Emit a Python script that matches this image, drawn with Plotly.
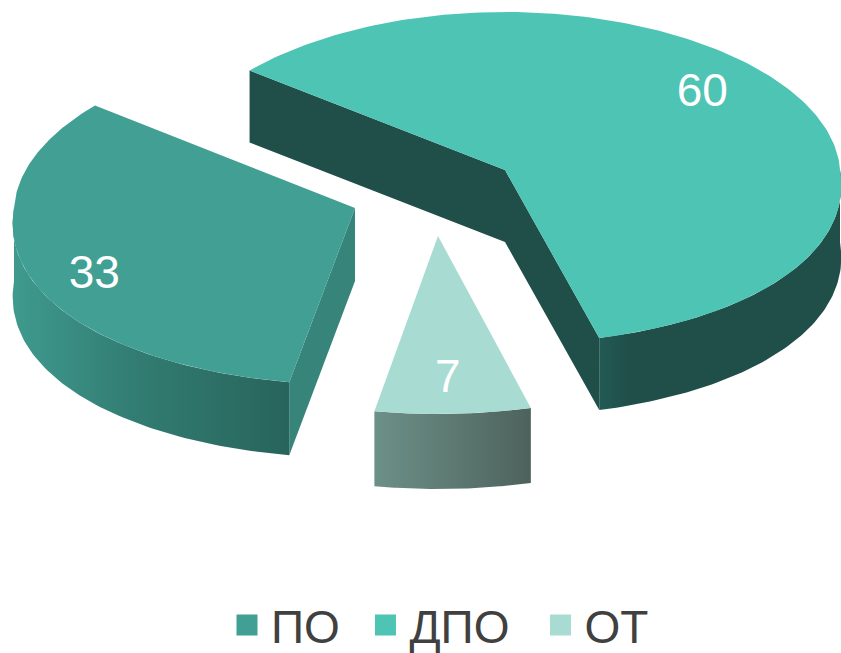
import numpy as np
import plotly.graph_objects as go

categories = ["ПО", "ДПО", "ОТ"]
values = [33, 60, 7]
legend_pads = ["\u00a0\u200a", "\u00a0\u2009", ""]
top_colors = ["#419F93", "#4EC4B4", "#A8DBD2"]
face_colors = ["#36847A", "#204F4A", "#A8DBD2"]
side_scales = [
    [[0, "#3F9A8E"], [0.45, "#327C72"], [1, "#28645B"]],
    [[0, "#235A54"], [0.12, "#204F4A"], [1, "#204F4A"]],
    [[0, "#6C9087"], [1, "#4E625D"]],
]
apexes = [(355, 208), (505, 170), (438, 236)]
radii = [341, 335, 330]
ry_back = [163.0, 158.0, 158.0]
ry_front = [177.0, 174.0, 178.0]
depths = [73.0, 72.0, 75.0]
label_frac = [0.83, 0.766, 0.815]
label_shift = [7.5, 5.4, -0.5]
START_DEG = 141.0
K_BACK, K_FRONT = 0.03, 0.09


def project(i, deg, frac=1.0):
    t = np.radians(deg)
    c, s = np.cos(t), np.sin(t)
    ry = np.where(s >= 0, ry_back[i], ry_front[i])
    k = np.where(s >= 0, K_BACK, K_FRONT)
    return apexes[i][0] + frac * radii[i] * c * (1 - k * s), apexes[i][1] - frac * ry * s


# slice angles derived from values: DPO starts at START_DEG, clockwise, then OT, then PO
total = sum(values)
sweep = [v / total * 360 for v in values]
a_dpo = (START_DEG, START_DEG - sweep[1])
a_ot = (a_dpo[1], a_dpo[1] - sweep[2])
a_po = (a_ot[1], a_ot[1] - sweep[0])
angles = [a_po, a_dpo, a_ot]
# portion of the rim visible at the front (clipped to lower half)
rims = [(-180.0, a_po[0]), (a_dpo[1], 0.0), (a_ot[1], a_ot[0])]

fig = go.Figure()


def add_poly(xs, ys, color=None, scale=None):
    kw = dict(fillcolor=color) if scale is None else dict(
        fillgradient=dict(type="horizontal", colorscale=scale))
    fig.add_trace(go.Scatter(x=list(xs), y=list(ys), mode="lines", fill="toself",
                             line=dict(width=0), hoverinfo="skip",
                             showlegend=False, **kw))


for i in range(3):
    apex, depth = apexes[i], depths[i]
    a0, a1 = angles[i]
    # flat cut faces
    if i == 0:
        ex, ey = project(i, a0)
        ex, ey = float(ex), float(ey)
        add_poly([apex[0], ex, ex, apex[0]],
                 [apex[1], ey, ey + depth, apex[1] + depth], face_colors[i])
    if i == 1:
        sx, sy = project(i, a0)
        ex, ey = project(i, a1)
        sx, sy, ex, ey = float(sx), float(sy), float(ex), float(ey)
        add_poly([sx, apex[0], ex, ex, apex[0], sx],
                 [sy, apex[1], ey, ey + depth, apex[1] + depth, sy + depth], face_colors[i])
    # curved rim
    r0, r1 = rims[i]
    deg = np.linspace(r0, r1, 80)
    rx_pts, ry_pts = project(i, deg)
    add_poly(np.r_[rx_pts, rx_pts[::-1]], np.r_[ry_pts, ry_pts[::-1] + depth],
             scale=side_scales[i])
    # top face
    deg = np.linspace(a0, a1, 200)
    tx, ty = project(i, deg)
    add_poly(np.r_[apex[0], tx], np.r_[apex[1], ty], top_colors[i])

# value labels
lx, ly = [], []
for i in range(3):
    mid = sum(angles[i]) / 2 + label_shift[i]
    x, y = project(i, mid, label_frac[i])
    lx.append(float(x))
    ly.append(float(y))
fig.add_trace(go.Scatter(x=lx, y=ly, mode="text", text=[str(v) for v in values],
                         textposition="middle center",
                         textfont=dict(family="Liberation Sans", size=46, color="#FFFFFF"),
                         hoverinfo="skip", showlegend=False))

# legend entries
for i, cat in enumerate(categories):
    fig.add_trace(go.Scatter(x=[None], y=[None], mode="markers", name=cat + legend_pads[i],
                             marker=dict(symbol="square", size=16, color=top_colors[i],
                                         line=dict(width=5, color=top_colors[i]))))

fig.update_layout(
    width=841, height=653, autosize=False,
    margin=dict(l=0, r=0, t=0, b=0, autoexpand=False),
    paper_bgcolor="#FFFFFF", plot_bgcolor="#FFFFFF",
    showlegend=True,
    legend=dict(orientation="h", x=223 / 841, xanchor="left", y=1 - 625 / 653, yanchor="middle",
                itemwidth=38,
                font=dict(family="Liberation Sans", size=46, color="#404040"),
                bgcolor="rgba(0,0,0,0)", itemclick=False, itemdoubleclick=False),
    xaxis=dict(range=[0, 841], visible=False, fixedrange=True),
    yaxis=dict(range=[653, 0], visible=False, fixedrange=True),
)
fig.write_html("out.html", config={"displayModeBar": False}, post_script=
               "document.body.style.margin='0';")
